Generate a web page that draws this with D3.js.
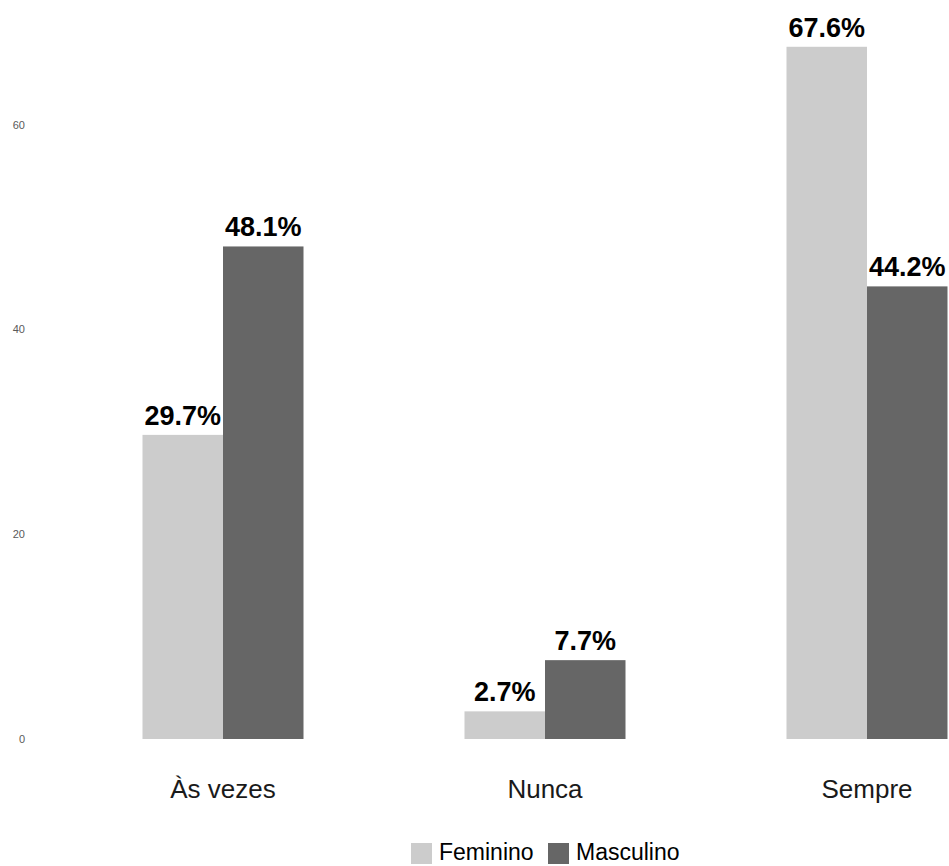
<!DOCTYPE html>
<html>
<head>
<meta charset="utf-8">
<script src="https://cdn.jsdelivr.net/npm/d3@7"></script>
<style>
  html, body { margin: 0; padding: 0; background: #fff; }
  svg { display: block; }
</style>
</head>
<body>
<svg id="chart" width="949" height="866"></svg>
<script>
const categories = ["Às vezes", "Nunca", "Sempre"];
const seriesNames = ["Feminino", "Masculino"];
const feminino = [29.7, 2.7, 67.6];
const masculino = [48.1, 7.7, 44.2];
const yTicks = [0, 20, 40, 60];
const colors = ["#cccccc", "#666666"];

const FONT = "'Liberation Sans', Arial, sans-serif";
const svg = d3.select("#chart");

// category centers at 223, 545, 867 -> step 322
const x = d3.scaleBand().domain(categories).range([62, 1028]).paddingInner(0.5).paddingOuter(0.25);
const x1 = d3.scaleBand().domain(seriesNames).range([0, x.bandwidth()]);
const y = d3.scaleLinear().domain([0, 60]).range([739, 124.6]);

// y tick labels
const yAxis = d3.axisLeft(y).tickValues(yTicks).tickSize(0).tickPadding(0);
const gy = svg.append("g").attr("transform", "translate(25,0)").call(yAxis);
gy.select(".domain").remove();
gy.selectAll("text").attr("font-family", FONT)
  .attr("font-size", 11).attr("fill", "#5a5a5a");

const data = categories.map((c, i) => ({cat: c, values: [
  {s: seriesNames[0], v: feminino[i]},
  {s: seriesNames[1], v: masculino[i]}
]}));

const groups = svg.append("g").selectAll("g").data(data).join("g")
  .attr("transform", d => `translate(${x(d.cat)},0)`);

groups.selectAll("rect").data(d => d.values).join("rect")
  .attr("x", d => x1(d.s))
  .attr("width", x1.bandwidth())
  .attr("y", d => y(d.v))
  .attr("height", d => y(0) - y(d.v))
  .attr("fill", (d, i) => colors[i]);

groups.selectAll("text.lbl").data(d => d.values).join("text")
  .attr("class", "lbl")
  .attr("x", d => x1(d.s) + x1.bandwidth() / 2)
  .attr("y", d => y(d.v) - 10)
  .attr("text-anchor", "middle")
  .attr("font-family", FONT)
  .attr("font-weight", "bold")
  .attr("font-size", 27)
  .attr("fill", "#000")
  .text(d => d.v.toFixed(1) + "%");

// x axis category labels
const xAxis = d3.axisBottom(x).tickSize(0).tickPadding(0);
const gx = svg.append("g").attr("transform", "translate(0,798)").call(xAxis);
gx.select(".domain").remove();
gx.selectAll("text").attr("dy", 0).attr("y", 0)
  .attr("font-family", FONT)
  .attr("font-size", 26).attr("fill", "#1a1a1a");

// legend
const legendX = [411, 548];
const leg = svg.append("g");
seriesNames.forEach((s, i) => {
  leg.append("rect").attr("x", legendX[i]).attr("y", 843).attr("width", 21).attr("height", 21).attr("fill", colors[i]);
  leg.append("text").attr("x", legendX[i] + 28).attr("y", 860)
    .attr("font-family", FONT)
    .attr("font-size", 23).attr("fill", "#000").text(s);
});
</script>
</body>
</html>
